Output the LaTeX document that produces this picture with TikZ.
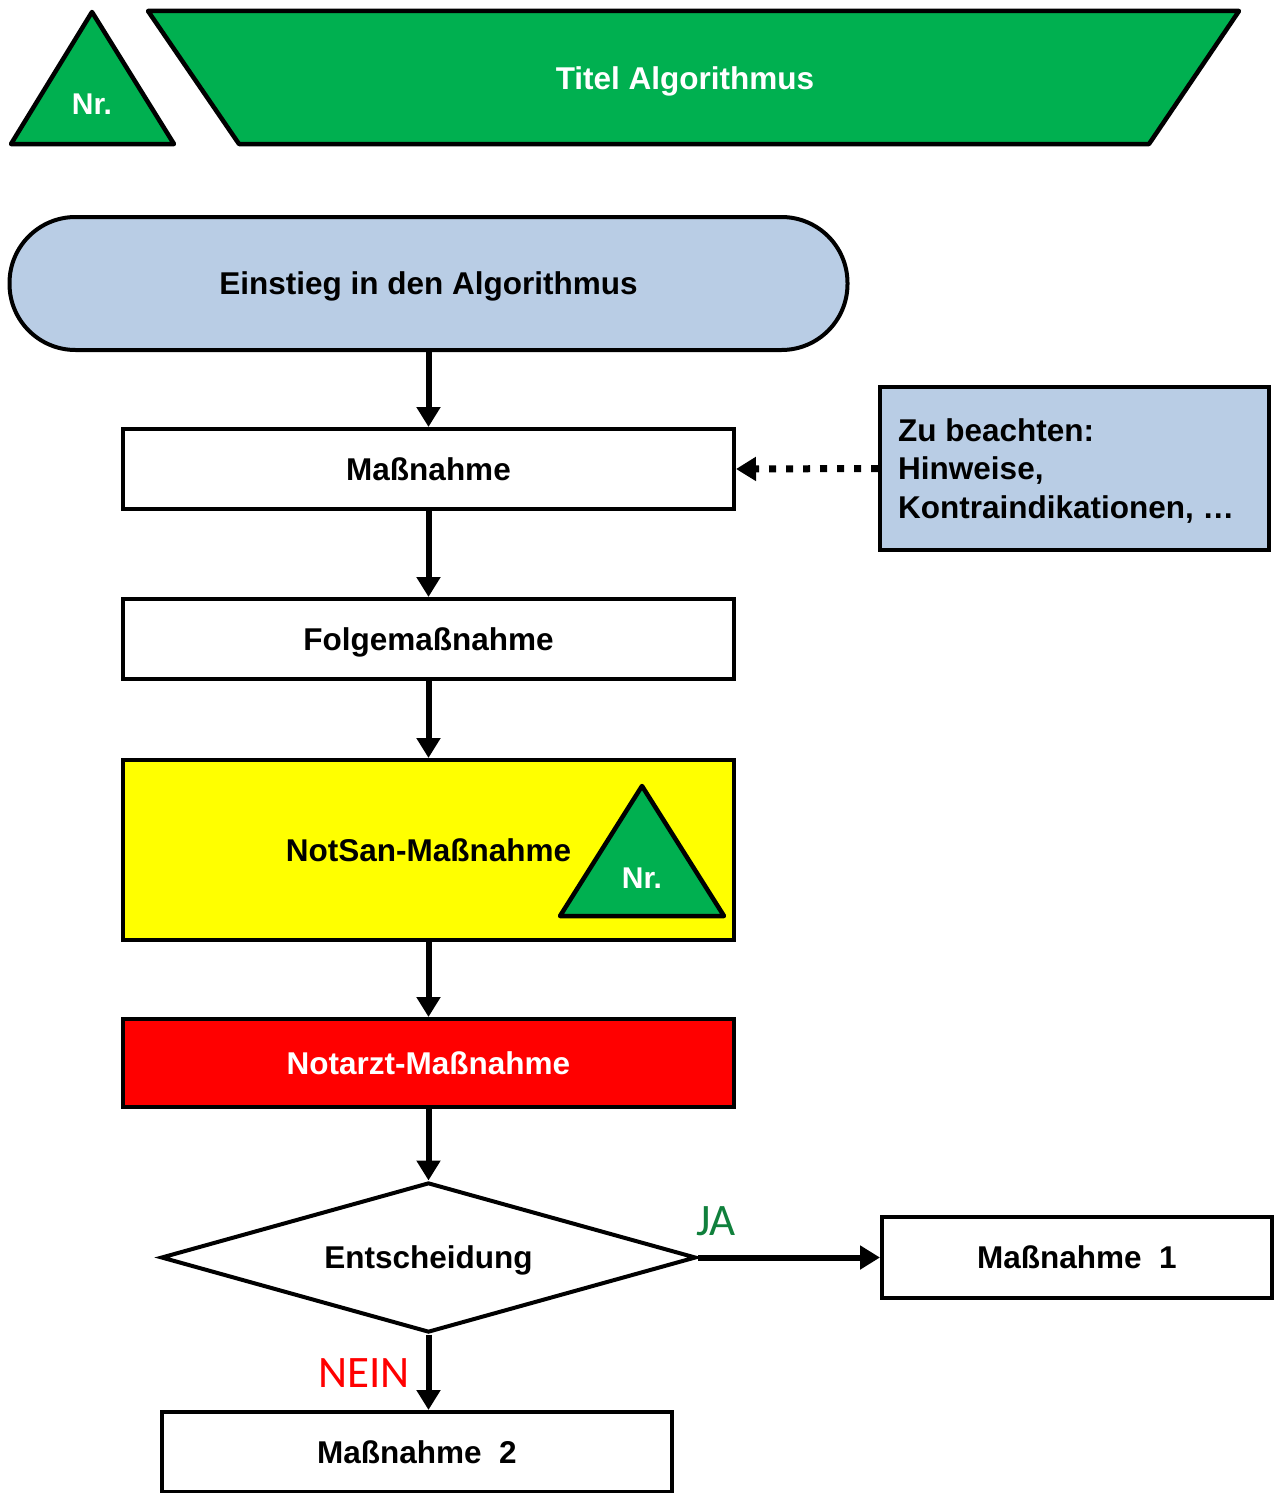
\documentclass[tikz,border=0pt]{standalone}
\usepackage{fontspec}
\setmainfont{Liberation Sans}
\newfontfamily\answerfont{Carlito}
\usetikzlibrary{arrows.meta,shapes.geometric}
\definecolor{algogreen}{RGB}{0,176,80}
\definecolor{paleblue}{RGB}{185,205,229}
\definecolor{jagreen}{RGB}{16,128,60}
\definecolor{signalred}{RGB}{255,0,0}
\definecolor{signalyellow}{RGB}{255,255,0}

\begin{document}
\begin{tikzpicture}[x=1pt,y=-1pt,
  txt/.style={font=\fontsize{31.5}{38.5}\selectfont\bfseries},
  captxt/.style={txt,text height=22.6pt,text depth=0pt},
  outline/.style={draw,line width=4pt},
  box/.style={outline,rectangle,minimum width=611pt,minimum height=80pt,inner sep=0pt,captxt,fill=white},
  shapefill/.style={draw,line width=4.5pt,line join=round,fill=algogreen},
  whitetxt/.style={captxt,text=white,inner sep=0pt},
  answer/.style={font=\answerfont\fontsize{45}{50}\selectfont,inner sep=0pt},
  flow/.style={line width=6pt,-{Triangle[length=20pt,width=23pt]}},
  hint/.style={line width=7pt,dash pattern=on 7pt off 10pt,-{Triangle[length=20pt,width=23pt]}}
]
\useasboundingbox (0,0) rectangle (1277,1493);

% header: number triangle and title banner
\draw[shapefill] (92,12) -- (174,144) -- (11,144) -- cycle;
\node[whitetxt,font=\fontsize{30}{36}\selectfont\bfseries,text height=21.5pt] (nr) at (92,104) {Nr.};
\draw[shapefill] (148,11) -- (1239,11) -- (1149,144) -- (239,144) -- cycle;
\node[whitetxt] (title) at (685,78) {Titel Algorithmus};

% entry terminal
\node[outline,rectangle,rounded corners=66pt,fill=paleblue,minimum width=838pt,
      minimum height=133pt,captxt,inner sep=0pt] (entry) at (428.5,283.5) {Einstieg in den Algorithmus};

% steps
\node[box] (step1) at (428.5,469) {Maßnahme};
\node[box] (step2) at (428.5,639) {Folgemaßnahme};
\node[box,fill=signalyellow,minimum height=180pt] (notsan) at (428.5,850) {NotSan-Maßnahme};
\draw[shapefill] (642,786) -- (724,916) -- (560,916) -- cycle;
\node[whitetxt,font=\fontsize{30}{36}\selectfont\bfseries,text height=21.5pt] (nr2) at (642,878) {Nr.};
\node[box,fill=signalred,text=white,minimum height=88pt] (notarzt) at (428.5,1063) {Notarzt-Maßnahme};

% decision
\node[outline,diamond,aspect=3.6,minimum width=535pt,minimum height=150pt,inner sep=0pt,
      captxt,fill=white] (decide) at (428.5,1257.5) {Entscheidung};
\node[box,minimum width=390pt,minimum height=81pt] (yes) at (1077,1257.5) {Maßnahme\ \ 1};
\node[box,minimum width=510pt,minimum height=80pt] (no) at (417,1452) {Maßnahme\ \ 2};

% note box with its text
\node[outline,rectangle,fill=paleblue,minimum width=389pt,minimum height=163pt,
      inner sep=0pt] (note) at (1074.5,468.5) {};
\node[txt,align=left,anchor=west,inner sep=0pt] (notetext) at (898,471)
      {Zu beachten:\\Hinweise,\\Kontraindikationen, …};

% connectors
\draw[flow] (entry.south) -- (step1.north);
\draw[flow] (step1.south) -- (step2.north);
\draw[flow] (step2.south) -- (notsan.north);
\draw[flow] (notsan.south) -- (notarzt.north);
\draw[flow] (notarzt.south) -- (decide.north);
\draw[flow] (decide.east) -- (yes.west);
\draw[flow] (decide.south) -- (decide.south |- no.north);
\draw[hint] (note.west) -- (step1.east);

% branch labels
\node[answer,text=jagreen] (ja) at (716,1221) {JA};
\node[answer,text=signalred] (nein) at (364,1373) {NEIN};
\end{tikzpicture}
\end{document}
